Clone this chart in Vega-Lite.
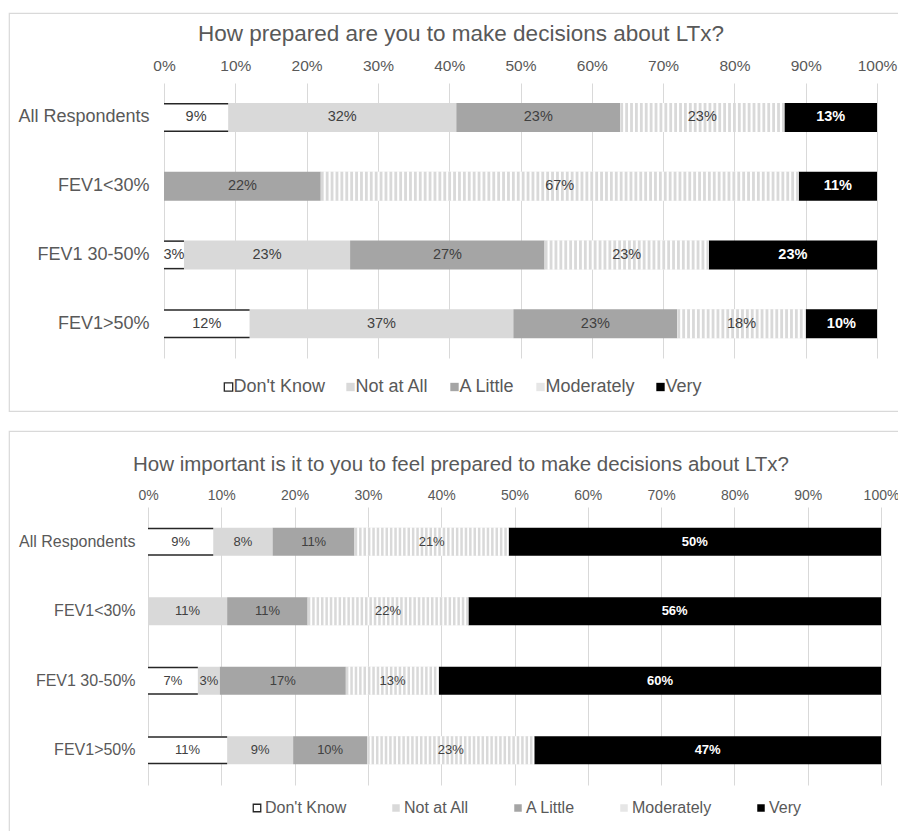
{
  "$schema": "https://vega.github.io/schema/vega-lite/v6.json",
  "padding": {"left": 8, "top": 12, "right": 0, "bottom": 0},
  "autosize": {"type": "pad"},
  "background": "white",
  "spacing": 18,
  "config": {
    "font": "Liberation Sans",
    "view": {"stroke": "#d9d9d9", "strokeWidth": 1.2},
    "axis": {"labelFont": "Liberation Sans", "labelColor": "#595959", "title": null},
    "title": {"font": "Liberation Sans", "color": "#595959", "fontWeight": "normal", "anchor": "middle"},
    "legend": {"labelFont": "Liberation Sans", "labelColor": "#595959"}
  },
  "resolve": {"scale": {"color": "independent"}, "legend": {"color": "independent"}},
  "datasets": {
    "prepared": [
      {"group": "All Respondents", "category": "Don't Know", "pct": 0.09, "label": "9%", "order": 1},
      {"group": "All Respondents", "category": "Not at All", "pct": 0.32, "label": "32%", "order": 2},
      {"group": "All Respondents", "category": "A Little", "pct": 0.23, "label": "23%", "order": 3},
      {"group": "All Respondents", "category": "Moderately", "pct": 0.23, "label": "23%", "order": 4},
      {"group": "All Respondents", "category": "Very", "pct": 0.13, "label": "13%", "order": 5},
      {"group": "FEV1<30%", "category": "A Little", "pct": 0.22, "label": "22%", "order": 3},
      {"group": "FEV1<30%", "category": "Moderately", "pct": 0.67, "label": "67%", "order": 4},
      {"group": "FEV1<30%", "category": "Very", "pct": 0.11, "label": "11%", "order": 5},
      {"group": "FEV1 30-50%", "category": "Don't Know", "pct": 0.028, "label": "3%", "order": 1},
      {"group": "FEV1 30-50%", "category": "Not at All", "pct": 0.233, "label": "23%", "order": 2},
      {"group": "FEV1 30-50%", "category": "A Little", "pct": 0.273, "label": "27%", "order": 3},
      {"group": "FEV1 30-50%", "category": "Moderately", "pct": 0.23, "label": "23%", "order": 4},
      {"group": "FEV1 30-50%", "category": "Very", "pct": 0.236, "label": "23%", "order": 5},
      {"group": "FEV1>50%", "category": "Don't Know", "pct": 0.12, "label": "12%", "order": 1},
      {"group": "FEV1>50%", "category": "Not at All", "pct": 0.37, "label": "37%", "order": 2},
      {"group": "FEV1>50%", "category": "A Little", "pct": 0.23, "label": "23%", "order": 3},
      {"group": "FEV1>50%", "category": "Moderately", "pct": 0.18, "label": "18%", "order": 4},
      {"group": "FEV1>50%", "category": "Very", "pct": 0.10, "label": "10%", "order": 5}
    ],
    "important": [
      {"group": "All Respondents", "category": "Don't Know", "pct": 0.089, "label": "9%", "order": 1},
      {"group": "All Respondents", "category": "Not at All", "pct": 0.081, "label": "8%", "order": 2},
      {"group": "All Respondents", "category": "A Little", "pct": 0.112, "label": "11%", "order": 3},
      {"group": "All Respondents", "category": "Moderately", "pct": 0.21, "label": "21%", "order": 4},
      {"group": "All Respondents", "category": "Very", "pct": 0.508, "label": "50%", "order": 5},
      {"group": "FEV1<30%", "category": "Not at All", "pct": 0.108, "label": "11%", "order": 2},
      {"group": "FEV1<30%", "category": "A Little", "pct": 0.11, "label": "11%", "order": 3},
      {"group": "FEV1<30%", "category": "Moderately", "pct": 0.219, "label": "22%", "order": 4},
      {"group": "FEV1<30%", "category": "Very", "pct": 0.563, "label": "56%", "order": 5},
      {"group": "FEV1 30-50%", "category": "Don't Know", "pct": 0.068, "label": "7%", "order": 1},
      {"group": "FEV1 30-50%", "category": "Not at All", "pct": 0.03, "label": "3%", "order": 2},
      {"group": "FEV1 30-50%", "category": "A Little", "pct": 0.172, "label": "17%", "order": 3},
      {"group": "FEV1 30-50%", "category": "Moderately", "pct": 0.127, "label": "13%", "order": 4},
      {"group": "FEV1 30-50%", "category": "Very", "pct": 0.603, "label": "60%", "order": 5},
      {"group": "FEV1>50%", "category": "Don't Know", "pct": 0.108, "label": "11%", "order": 1},
      {"group": "FEV1>50%", "category": "Not at All", "pct": 0.09, "label": "9%", "order": 2},
      {"group": "FEV1>50%", "category": "A Little", "pct": 0.101, "label": "10%", "order": 3},
      {"group": "FEV1>50%", "category": "Moderately", "pct": 0.228, "label": "23%", "order": 4},
      {"group": "FEV1>50%", "category": "Very", "pct": 0.473, "label": "47%", "order": 5}
    ]
  },
  "vconcat": [
    {
      "width": 904,
      "height": 398,
      "title": {"text": "How prepared are you to make decisions about LTx?", "fontSize": 22.5, "offset": -32},
      "data": {"name": "prepared"},
      "transform": [
        {"stack": "pct", "groupby": ["group"], "sort": [{"field": "order", "order": "ascending"}], "as": ["x0", "x1"]}
      ],
      "encoding": {
        "y": {
          "field": "group", "type": "nominal",
          "sort": ["All Respondents", "FEV1<30%", "FEV1 30-50%", "FEV1>50%"],
          "scale": {"range": [70, 345], "paddingInner": 0, "paddingOuter": 0},
          "axis": {"orient": "left", "offset": -140, "labelPadding": 0, "tickSize": 0, "ticks": false, "domain": false, "grid": false, "labelFontSize": 18, "labelColor": "#595959"}
        }
      },
      "layer": [
        {
          "mark": {"type": "bar", "size": 29},
          "encoding": {
            "x": {
              "field": "x0", "type": "quantitative",
              "scale": {"domain": [0, 1], "range": [155, 868], "nice": false, "zero": true},
              "axis": {"orient": "top", "offset": -62, "values": [0, 0.1, 0.2, 0.3, 0.4, 0.5, 0.6, 0.7, 0.8, 0.9, 1], "format": ".0%", "grid": true, "gridColor": "#d9d9d9", "gridWidth": 1, "ticks": false, "tickSize": 0, "domain": false, "labelFontSize": 15.5, "labelPadding": 2, "labelFlush": false, "labelColor": "#595959"}
            },
            "x2": {"field": "x1"},
            "color": {
              "field": "category", "type": "nominal",
              "scale": {"domain": ["Don't Know", "Not at All", "A Little", "Moderately", "Very"], "range": ["#ffffff", "#d9d9d9", "#a5a5a5", "#e6e6e6", "#000000"]},
              "legend": {
                "orient": "none", "legendX": 210.5, "legendY": 365, "direction": "horizontal", "title": null,
                "symbolType": "square", "symbolSize": 70, "symbolStrokeWidth": 1.3,
                "labelFontSize": 18, "labelColor": "#595959", "columnPadding": 16, "labelOffset": -4, "padding": 0,
                "encode": {"symbols": {"update": {"stroke": {"signal": "datum.value === \"Don't Know\" ? '#262626' : 'transparent'"}}}}
              }
            }
          }
        },
        {
          "transform": [{"filter": "datum.category === 'Moderately'"}],
          "mark": {"type": "bar", "size": 29, "color": "#ffffff"},
          "encoding": {"x": {"field": "x0", "type": "quantitative"}, "x2": {"field": "x1"}}
        },
        {
          "transform": [{"filter": "datum.category === 'Moderately'"}],
          "mark": {"type": "rule", "strokeWidth": 29, "strokeDash": [2.8, 2.1], "color": "#d9d9d9", "strokeCap": "butt"},
          "encoding": {"x": {"field": "x0", "type": "quantitative"}, "x2": {"field": "x1"}}
        },
        {
          "transform": [{"filter": "datum.category === \"Don't Know\""}],
          "mark": {"type": "rule", "strokeWidth": 1.5, "color": "#262626", "yOffset": -13.75},
          "encoding": {"x": {"field": "x0", "type": "quantitative"}, "x2": {"field": "x1"}}
        },
        {
          "transform": [{"filter": "datum.category === \"Don't Know\""}],
          "mark": {"type": "rule", "strokeWidth": 1.5, "color": "#262626", "yOffset": 13.75},
          "encoding": {"x": {"field": "x0", "type": "quantitative"}, "x2": {"field": "x1"}}
        },
        {
          "mark": {"type": "text", "fontSize": 14.5, "font": "Liberation Sans", "baseline": "middle", "align": "center"},
          "encoding": {
            "x": {"field": "pct", "type": "quantitative", "stack": "zero", "bandPosition": 0.5},
            "order": {"field": "order", "type": "quantitative"},
            "text": {"field": "label"},
            "color": {"condition": {"test": "datum.category === 'Very'", "value": "transparent"}, "value": "#404040"}
          }
        },
        {
          "mark": {"type": "text", "fontSize": 14.5, "font": "Liberation Sans", "fontWeight": "bold", "baseline": "middle", "align": "center"},
          "encoding": {
            "x": {"field": "pct", "type": "quantitative", "stack": "zero", "bandPosition": 0.5},
            "order": {"field": "order", "type": "quantitative"},
            "text": {"field": "label"},
            "color": {"condition": {"test": "datum.category === 'Very'", "value": "#ffffff"}, "value": "transparent"}
          }
        }
      ]
    },
    {
      "width": 904,
      "height": 402,
      "title": {"text": "How important is it to you to feel prepared to make decisions about LTx?", "fontSize": 20.5, "offset": -44},
      "data": {"name": "important"},
      "transform": [
        {"stack": "pct", "groupby": ["group"], "sort": [{"field": "order", "order": "ascending"}], "as": ["x0", "x1"]}
      ],
      "encoding": {
        "y": {
          "field": "group", "type": "nominal",
          "sort": ["All Respondents", "FEV1<30%", "FEV1 30-50%", "FEV1>50%"],
          "scale": {"range": [76, 354], "paddingInner": 0, "paddingOuter": 0},
          "axis": {"orient": "left", "offset": -126, "labelPadding": 0, "tickSize": 0, "ticks": false, "domain": false, "grid": false, "labelFontSize": 16, "labelColor": "#595959"}
        }
      },
      "layer": [
        {
          "mark": {"type": "bar", "size": 28},
          "encoding": {
            "x": {
              "field": "x0", "type": "quantitative",
              "scale": {"domain": [0, 1], "range": [139, 872], "nice": false, "zero": true},
              "axis": {"orient": "top", "offset": -73, "values": [0, 0.1, 0.2, 0.3, 0.4, 0.5, 0.6, 0.7, 0.8, 0.9, 1], "format": ".0%", "grid": true, "gridColor": "#d9d9d9", "gridWidth": 1, "ticks": false, "tickSize": 0, "domain": false, "labelFontSize": 14, "labelPadding": 2, "labelFlush": false, "labelColor": "#595959"}
            },
            "x2": {"field": "x1"},
            "color": {
              "field": "category", "type": "nominal",
              "scale": {"domain": ["Don't Know", "Not at All", "A Little", "Moderately", "Very"], "range": ["#ffffff", "#d9d9d9", "#a5a5a5", "#e6e6e6", "#000000"]},
              "legend": {
                "orient": "none", "legendX": 240, "legendY": 369, "direction": "horizontal", "title": null,
                "symbolType": "square", "symbolSize": 56, "symbolStrokeWidth": 1.3,
                "labelFontSize": 16, "labelColor": "#595959", "columnPadding": 41, "labelOffset": 0, "padding": 0,
                "encode": {"symbols": {"update": {"stroke": {"signal": "datum.value === \"Don't Know\" ? '#262626' : 'transparent'"}}}}
              }
            }
          }
        },
        {
          "transform": [{"filter": "datum.category === 'Moderately'"}],
          "mark": {"type": "bar", "size": 28, "color": "#ffffff"},
          "encoding": {"x": {"field": "x0", "type": "quantitative"}, "x2": {"field": "x1"}}
        },
        {
          "transform": [{"filter": "datum.category === 'Moderately'"}],
          "mark": {"type": "rule", "strokeWidth": 28, "strokeDash": [2.5, 1.9], "color": "#d9d9d9", "strokeCap": "butt"},
          "encoding": {"x": {"field": "x0", "type": "quantitative"}, "x2": {"field": "x1"}}
        },
        {
          "transform": [{"filter": "datum.category === \"Don't Know\""}],
          "mark": {"type": "rule", "strokeWidth": 1.5, "color": "#262626", "yOffset": -13.25},
          "encoding": {"x": {"field": "x0", "type": "quantitative"}, "x2": {"field": "x1"}}
        },
        {
          "transform": [{"filter": "datum.category === \"Don't Know\""}],
          "mark": {"type": "rule", "strokeWidth": 1.5, "color": "#262626", "yOffset": 13.25},
          "encoding": {"x": {"field": "x0", "type": "quantitative"}, "x2": {"field": "x1"}}
        },
        {
          "mark": {"type": "text", "fontSize": 13, "font": "Liberation Sans", "baseline": "middle", "align": "center"},
          "encoding": {
            "x": {"field": "pct", "type": "quantitative", "stack": "zero", "bandPosition": 0.5},
            "order": {"field": "order", "type": "quantitative"},
            "text": {"field": "label"},
            "color": {"condition": {"test": "datum.category === 'Very'", "value": "transparent"}, "value": "#404040"}
          }
        },
        {
          "mark": {"type": "text", "fontSize": 13, "font": "Liberation Sans", "fontWeight": "bold", "baseline": "middle", "align": "center"},
          "encoding": {
            "x": {"field": "pct", "type": "quantitative", "stack": "zero", "bandPosition": 0.5},
            "order": {"field": "order", "type": "quantitative"},
            "text": {"field": "label"},
            "color": {"condition": {"test": "datum.category === 'Very'", "value": "#ffffff"}, "value": "transparent"}
          }
        }
      ]
    }
  ]
}
